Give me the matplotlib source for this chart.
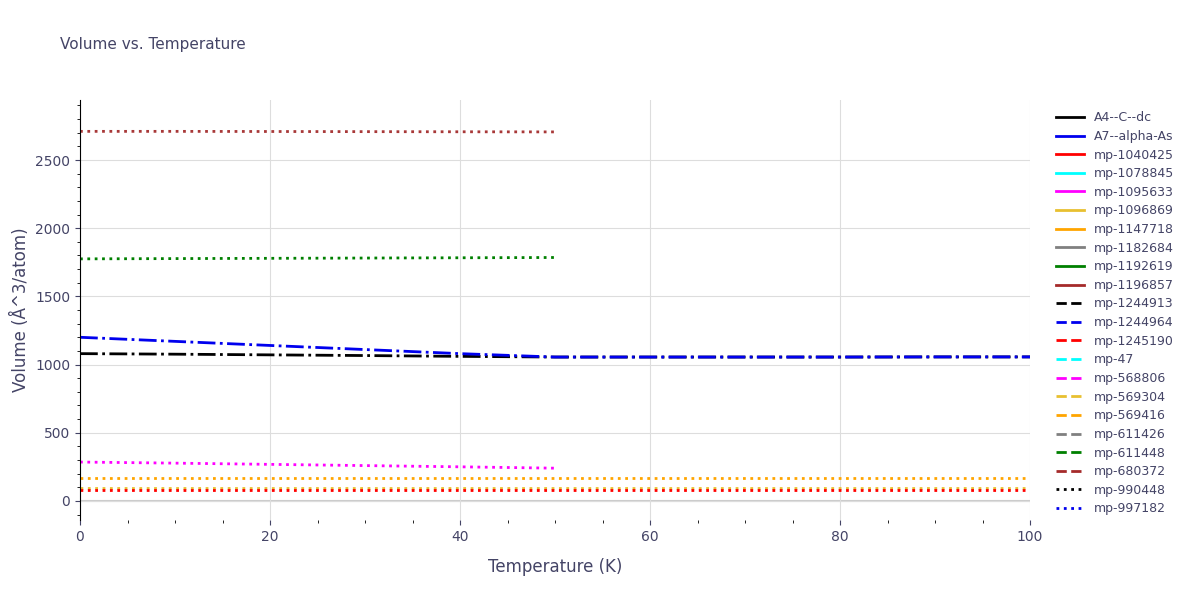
import matplotlib
matplotlib.use("Agg")
import matplotlib.pyplot as plt
from matplotlib.lines import Line2D
from matplotlib.ticker import MultipleLocator

legend_names = ["A4--C--dc","A7--alpha-As","mp-1040425","mp-1078845","mp-1095633","mp-1096869",
                "mp-1147718","mp-1182684","mp-1192619","mp-1196857","mp-1244913","mp-1244964",
                "mp-1245190","mp-47","mp-568806","mp-569304","mp-569416","mp-611426","mp-611448",
                "mp-680372","mp-990448","mp-997182"]
legend_colors = ["black","#0000ee","red","cyan","magenta","#e8c030","orange","gray","green","brown",
                 "black","#0000ee","red","cyan","magenta","#e8c030","orange","gray","green","brown",
                 "black","#0000ee"]
legend_styles = ["-"]*10 + ["--"]*10 + [":"]*2

T_full = [0, 10, 20, 30, 40, 50, 60, 70, 80, 90, 100]
T_half = [0, 10, 20, 30, 40, 50]
black_dc = [1080, 1076, 1071, 1066, 1060, 1055, 1055, 1055, 1055, 1056, 1056]
blue_dc = [1200, 1170, 1140, 1110, 1080, 1055, 1055, 1055, 1055, 1056, 1056]
magenta = [285, 277, 268, 259, 250, 240]
orange = [170]*11
yellow = [92]*11
red = [80]*11
brown = [2710, 2710, 2709, 2708, 2707, 2706]
green = [1775, 1777, 1779, 1781, 1783, 1785]

traces = [
    (T_full, black_dc, "black", "-."),
    (T_full, blue_dc, "#0000ee", "-."),
    (T_half, magenta, "magenta", ":"),
    (T_full, orange, "orange", ":"),
    (T_full, yellow, "#e8c030", ":"),
    (T_full, red, "red", ":"),
    (T_half, brown, "#a83838", ":"),
    (T_half, green, "green", ":"),
]

fig = plt.figure(figsize=(12, 6), dpi=100)
ax = fig.add_axes([80/1200, 80/600, 950/1200, 420/600])
for x, y, c, s in traces:
    ax.plot(x, y, color=c, linestyle=s, linewidth=2)
ax.set_xlim(0, 100)
ax.set_ylim(-140, 2940)
ax.yaxis.set_minor_locator(MultipleLocator(100))
ax.xaxis.set_minor_locator(MultipleLocator(5))
ax.grid(True, color="#dddddd")
for s in ["top", "right", "bottom"]:
    ax.spines[s].set_visible(False)
ax.spines["left"].set_color("black")
ax.axhline(0, color="#cccccc", lw=1.5, zorder=0)
ax.tick_params(colors="#444466", labelsize=10)
ax.set_xlabel("Temperature (K)", color="#444466", fontsize=12, labelpad=10)
ax.set_ylabel("Volume (Å^3/atom)", color="#444466", fontsize=12)
fig.text(60/1200, 1-45/600, "Volume vs. Temperature", color="#444466", fontsize=11, va="center")
handles = [Line2D([], [], color=c, linestyle=s, lw=2) for c, s in zip(legend_colors, legend_styles)]
leg = fig.legend(handles, legend_names, loc="upper left", bbox_to_anchor=(1045/1200, 1-100/600),
                 frameon=False, fontsize=9, labelspacing=0.45, handlelength=2.2)
for t in leg.get_texts():
    t.set_color("#444466")
fig.savefig("out.png")
